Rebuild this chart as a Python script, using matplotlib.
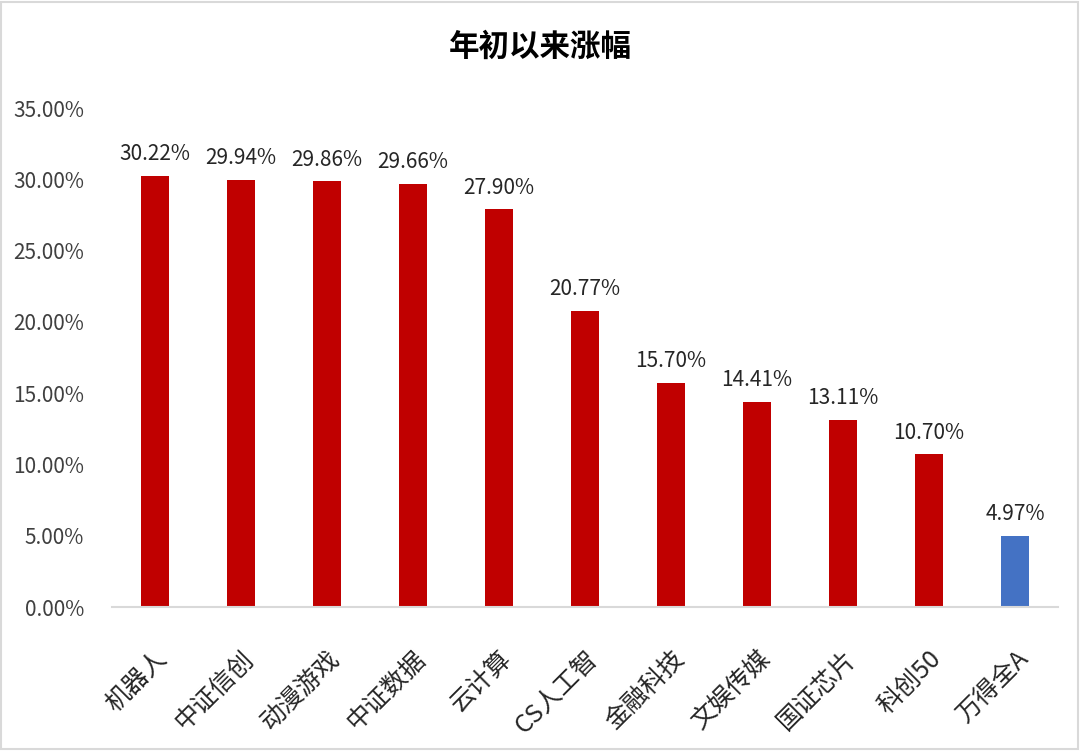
import matplotlib
matplotlib.use("Agg")
import matplotlib.pyplot as plt
from matplotlib.patches import Rectangle
from matplotlib.ticker import FuncFormatter, MultipleLocator

plt.rcParams['font.family'] = ['Noto Sans CJK SC', 'DejaVu Sans']

categories = ['机器人', '中证信创', '动漫游戏', '中证数据', '云计算', 'CS人工智', '金融科技', '文娱传媒', '国证芯片', '科创50', '万得全A']
values = [30.22, 29.94, 29.86, 29.66, 27.90, 20.77, 15.70, 14.41, 13.11, 10.70, 4.97]
colors = ['#C00000'] * 10 + ['#4472C4']
title = '年初以来涨幅'

fig = plt.figure(figsize=(10.8, 7.51), dpi=100)
ax = fig.add_axes([112 / 1080, 144 / 751, 946 / 1080, 499 / 751])

x = range(len(categories))
ax.bar(x, values, width=0.314, color=colors, zorder=2)
for xi, v in zip(x, values):
    ax.text(xi, v + 0.75, f'{v:.2f}%', ha='center', va='bottom', fontsize=15, color='#262626')

ax.set_xlim(-0.5, len(categories) - 0.5)
ax.set_ylim(0, 35)
ax.yaxis.set_major_locator(MultipleLocator(5))
ax.yaxis.set_major_formatter(FuncFormatter(lambda v, p: f'{v:.2f}%'))
ax.set_xticks(list(x))
ax.set_xticklabels(categories, rotation=45, ha='right', rotation_mode='anchor', fontsize=18, color='#262626')
ax.tick_params(axis='y', length=0, labelsize=15, labelcolor='#404040', pad=20)
ax.tick_params(axis='x', length=0, pad=28)
for s in ['top', 'right', 'left']:
    ax.spines[s].set_visible(False)
ax.spines['bottom'].set_color('#D9D9D9')
ax.spines['bottom'].set_linewidth(1.5)

fig.text(0.5, 1 - 47 / 751, title, ha='center', va='center', fontsize=22, fontweight='bold', color='#000000')
fig.patches.append(Rectangle((0.001, 0.002), 0.997, 0.995, transform=fig.transFigure,
                             fill=False, edgecolor='#D9D9D9', linewidth=1.5))

fig.savefig('out.png', dpi=100)
